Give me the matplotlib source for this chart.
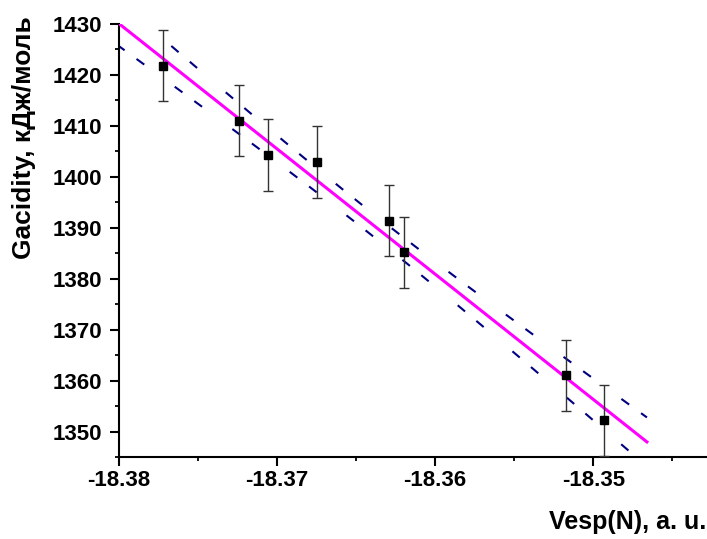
import numpy as np
import matplotlib
matplotlib.use("Agg")
import matplotlib.pyplot as plt
from matplotlib.ticker import MultipleLocator, FormatStrFormatter

# Data
vesp = [-18.3772, -18.3724, -18.3706, -18.3675, -18.3629, -18.3620, -18.3517, -18.3493]
gacidity = [1421.8, 1411.0, 1404.3, 1402.9, 1391.4, 1385.2, 1361.0, 1352.2]
errors = [7.0, 7.0, 7.0, 7.0, 7.0, 7.0, 7.0, 7.0]
fit_range = [-18.3800, -18.3466]
xticks = [-18.38, -18.37, -18.36, -18.35]
yticks = [1350, 1360, 1370, 1380, 1390, 1400, 1410, 1420, 1430]

plt.rcParams['font.family'] = ['Liberation Sans', 'DejaVu Sans']
plt.rcParams['font.weight'] = 'bold'
plt.rcParams['lines.scale_dashes'] = False

fig = plt.figure(figsize=(7.07, 5.39), dpi=100)
ax = fig.add_axes([119/707, 1-457/539, 1-119/707, (457-24)/539])

x = np.array(vesp)
y = np.array(gacidity)
n = len(x)
slope, intercept = np.polyfit(x, y, 1)
resid = y - (slope*x + intercept)
s = np.sqrt(np.sum(resid**2)/(n-2))
xbar = x.mean()
sxx = np.sum((x-xbar)**2)
tval = 2.447  # t(0.975, 6)
xf = np.linspace(fit_range[0], fit_range[1], 200)
yf = slope*xf + intercept
half = tval*s*np.sqrt(1/n + (xf-xbar)**2/sxx)

dash = (1.9, (6.9, 10.6, 6.9, 27.1))
ax.plot(xf, yf, color='#ff00ff', lw=2.2, zorder=3)
ax.plot(xf, yf+half, color='#000080', lw=1.5, ls=dash, zorder=2)
ax.plot(xf, yf-half, color='#000080', lw=1.5, ls=dash, zorder=2)
ax.errorbar(x, y, yerr=errors, fmt='s', color='black', ms=6,
            ecolor='#333333', elinewidth=1.0, capsize=3.5, capthick=1.0, zorder=4)

ax.set_xlim(-18.38, -18.3428)
ax.set_ylim(1345, 1430)
ax.set_xticks(xticks)
ax.set_yticks(yticks)
ax.xaxis.set_major_formatter(FormatStrFormatter('%.2f'))
ax.xaxis.set_minor_locator(MultipleLocator(0.005))
ax.yaxis.set_minor_locator(MultipleLocator(5))
for sp in ['top', 'right']:
    ax.spines[sp].set_visible(False)
for sp in ['left', 'bottom']:
    ax.spines[sp].set_linewidth(1.5)
ax.tick_params(which='major', direction='out', length=6.5, width=1.5, labelsize=16)
ax.tick_params(which='minor', direction='out', length=3, width=1.3)
ax.tick_params(axis='x', which='major', pad=3)
ax.tick_params(axis='y', which='major', pad=5.5)
for lab in ax.get_xticklabels() + ax.get_yticklabels():
    lab.set_fontweight('bold')

fig.text(24/707, 1-138/539, 'Gacidity, кДж/моль', rotation=90, ha='center', va='center',
         fontsize=19, fontweight='bold')
fig.text(706/707, 1-522/539, 'Vesp(N), a. u.', ha='right', va='center',
         fontsize=18, fontweight='bold')

fig.savefig('out.png', dpi=100)
